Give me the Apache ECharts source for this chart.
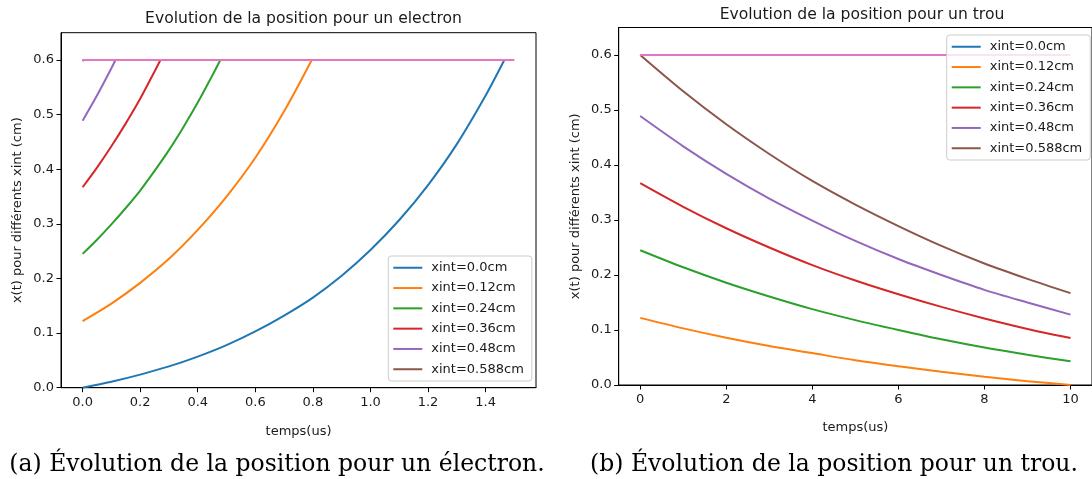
<!DOCTYPE html>
<html><head><meta charset="utf-8">
<script src="https://cdn.jsdelivr.net/npm/echarts@6/dist/echarts.min.js"></script>
<style>html,body{margin:0;padding:0;background:#fff}#c{width:1092px;height:479px}</style>
</head><body><div id="c"></div>
<script>
// ---------- data ----------
const seriesNames = ['xint=0.0cm','xint=0.12cm','xint=0.24cm','xint=0.36cm','xint=0.48cm','xint=0.588cm'];
const seriesColors = ['#1f77b4','#ff7f0e','#2ca02c','#d62728','#9467bd','#8c564b'];
const wallColor = '#e377c2';
const wallLevel = 0.6;

// (a) electron : time (us) and position (cm)
const elecT0 = [0,0.1,0.2,0.3,0.4,0.5,0.6,0.7,0.8,0.9,1.0,1.1,1.2,1.3,1.4,1.465];
const elecX0 = [0,0.011,0.024,0.039,0.057,0.078,0.103,0.132,0.165,0.205,0.252,0.307,0.371,0.446,0.535,0.6];
const elecT1 = [0,0.1,0.2,0.3,0.4,0.5,0.6,0.7,0.796];
const elecX1 = [0.122,0.154,0.192,0.236,0.289,0.350,0.421,0.506,0.6];
const elecT2 = [0,0.05,0.1,0.15,0.2,0.25,0.3,0.35,0.4,0.45,0.4785];
const elecX2 = [0.245,0.271,0.299,0.329,0.361,0.397,0.435,0.477,0.522,0.571,0.6];
const elecT3 = [0,0.05,0.1,0.15,0.2,0.25,0.2703];
const elecX3 = [0.367,0.403,0.442,0.484,0.529,0.579,0.6];
const elecT4 = [0,0.05,0.1,0.1144];
const elecX4 = [0.489,0.535,0.585,0.6];
const elecT5 = [0,0.004];
const elecX5 = [0.598,0.6];
const elecWallT = [0,1.5];

// (b) hole
const holeT = [0,1,2,3,4,5,6,7,8,9,10];
const holeX0 = []; // below the visible range (clipped)
const holeX1 = [0.122,0.103,0.086,0.071,0.058,0.045,0.034,0.024,0.015,0.007,0.0];
const holeX2 = [0.245,0.214,0.186,0.161,0.138,0.118,0.100,0.083,0.068,0.055,0.043];
const holeX3 = [0.367,0.324,0.285,0.250,0.218,0.190,0.165,0.142,0.121,0.102,0.0855];
const holeX4 = [0.489,0.434,0.384,0.339,0.299,0.262,0.229,0.200,0.173,0.150,0.128];
const holeX5 = [0.600,0.534,0.474,0.420,0.371,0.328,0.289,0.253,0.221,0.193,0.167];
const holeWallT = [0,10];

const elecXTicks = [0,0.2,0.4,0.6,0.8,1.0,1.2,1.4];
const holeXTicks = [0,2,4,6,8,10];
const yTicks = [0,0.1,0.2,0.3,0.4,0.5,0.6];

const titleA = 'Evolution de la position pour un electron';
const titleB = 'Evolution de la position pour un trou';
const captionA = '(a) Évolution de la position pour un électron.';
const captionB = '(b) Évolution de la position pour un trou.';
const xName = 'temps(us)';
const yName = 'x(t) pour différents xint (cm)';

// ---------- build ----------
const zip = (t, x) => x.map((v, i) => [t[i], v]);
const elecSets = [[elecT0,elecX0],[elecT1,elecX1],[elecT2,elecX2],[elecT3,elecX3],[elecT4,elecX4],[elecT5,elecX5]];
const holeSets = [holeX0,holeX1,holeX2,holeX3,holeX4,holeX5];

const FONT = 'DejaVu Sans';
const txt = '#1a1a1a';

function xAxis(gi, min, max, ticks, dec, gap) {
  return {
    type: 'value', gridIndex: gi, min: min, max: max,
    name: xName, nameLocation: 'middle', nameGap: gap,
    nameTextStyle: {fontFamily: FONT, fontSize: 13, color: txt},
    axisLine: {show: true, onZero: false, lineStyle: {color: '#000', width: 1}},
    axisTick: {show: true, length: 4.5, customValues: ticks, lineStyle: {color: '#000', width: 1}},
    axisLabel: {customValues: ticks, margin: 8, fontFamily: FONT, fontSize: 13, color: txt,
      formatter: v => Number(v).toFixed(dec)},
    splitLine: {show: false}
  };
}
function yAxis(gi) {
  return {
    type: 'value', gridIndex: gi, min: 0, max: 0.65,
    name: yName, nameLocation: 'middle', nameGap: 37, nameRotate: 90,
    nameTextStyle: {fontFamily: FONT, fontSize: 13, color: txt},
    axisLine: {show: true, onZero: false, lineStyle: {color: '#000', width: 1}},
    axisTick: {show: true, length: 4.5, customValues: yTicks, lineStyle: {color: '#000', width: 1}},
    axisLabel: {customValues: yTicks, margin: 7, fontFamily: FONT, fontSize: 13, color: txt,
      formatter: v => Number(v).toFixed(1)},
    splitLine: {show: false}
  };
}
function line(name, color, data, gi, z) {
  return {
    type: 'line', name: name, xAxisIndex: gi, yAxisIndex: gi, data: data,
    symbol: 'none', smooth: 0.3, color: color, z: z || 2,
    lineStyle: {color: color, width: 2}, itemStyle: {color: color},
    emphasis: {disabled: true}, silent: true, clip: true
  };
}
function legend(left, top) {
  return {
    data: seriesNames.map((n, i) => ({name: n, icon: 'rect', itemStyle: {color: seriesColors[i]}})),
    orient: 'vertical', left: left, top: top,
    itemWidth: 29, itemHeight: 2, itemGap: 6.3,
    padding: [4.75, 8, 4.75, 5],
    backgroundColor: 'rgba(255,255,255,0.8)', borderColor: '#cccccc', borderWidth: 1, borderRadius: 3,
    textStyle: {fontFamily: FONT, fontSize: 13, lineHeight: 14, color: txt, padding: [0,0,0,4]},
    selectedMode: false, z: 10
  };
}

const series = [];
elecSets.forEach((s, i) => series.push(line(seriesNames[i], seriesColors[i], zip(s[0], s[1]), 0)));
series.push(line('wallA', wallColor, elecWallT.map(t => [t, wallLevel]), 0, 3));
holeSets.forEach((s, i) => series.push(line(seriesNames[i], seriesColors[i], zip(holeT, s), 1)));
series.push(line('wallB', wallColor, holeWallT.map(t => [t, wallLevel]), 1, 3));

const chart = echarts.init(document.getElementById('c'), null, {renderer: 'canvas'});
chart.setOption({
  animation: false,
  backgroundColor: '#ffffff',
  title: [
    {text: titleA, left: 298.5, top: 6, textAlign: 'center',
     textStyle: {fontFamily: FONT, fontSize: 15.6, fontWeight: 'normal', color: txt}},
    {text: titleB, left: 857, top: 1.5, textAlign: 'center',
     textStyle: {fontFamily: FONT, fontSize: 15.6, fontWeight: 'normal', color: txt}}
  ],
  grid: [
    {left: 61, top: 32.7, width: 475, height: 355, show: true, borderColor: '#000', borderWidth: 1, backgroundColor: 'transparent', containLabel: false},
    {left: 618.7, top: 27.5, width: 474, height: 357.5, show: true, borderColor: '#000', borderWidth: 1, backgroundColor: 'transparent', containLabel: false}
  ],
  xAxis: [xAxis(0, -0.075, 1.575, elecXTicks, 1, 37), xAxis(1, -0.5, 10.5, holeXTicks, 0, 36.5)],
  yAxis: [yAxis(0), yAxis(1)],
  legend: [legend(388.3, 256), legend(946.7, 35)],
  series: series,
  graphic: [
    {type: 'text', style: {text: captionA, x: 277, y: 465, align: 'center', verticalAlign: 'middle',
      font: '23.5px "DejaVu Serif"', fill: '#000'}},
    {type: 'text', style: {text: captionB, x: 834, y: 465, align: 'center', verticalAlign: 'middle',
      font: '23.5px "DejaVu Serif"', fill: '#000'}}
  ]
});
</script></body></html>
